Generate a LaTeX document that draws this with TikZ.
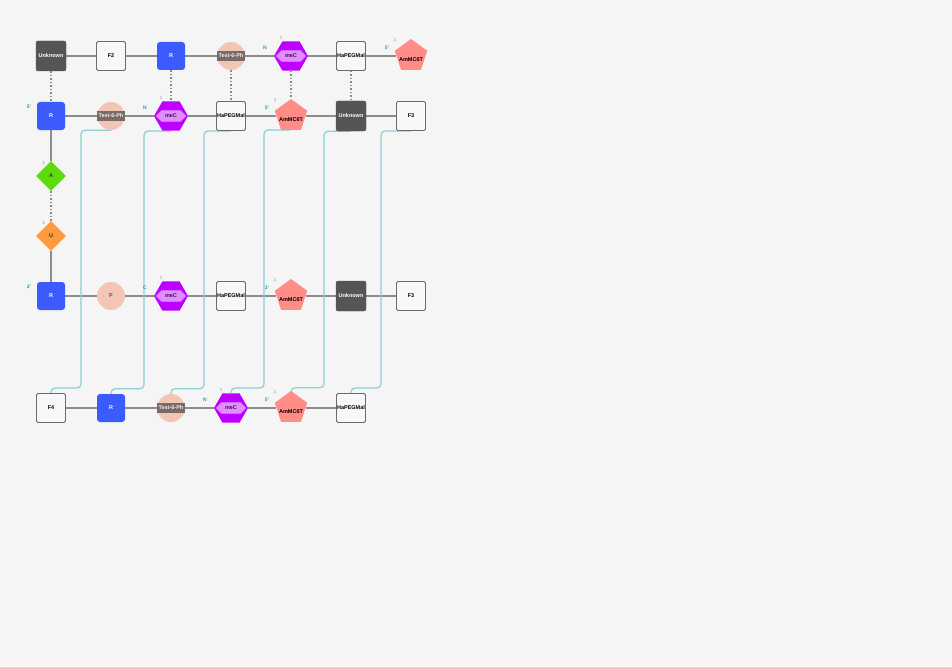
\documentclass[tikz,border=0pt]{standalone}
\usepackage{fontspec}
\setmainfont{Liberation Sans}
\usetikzlibrary{shapes,positioning}
\definecolor{pagebg}{HTML}{F5F5F5}
\definecolor{unkgray}{HTML}{555555}
\definecolor{boxline}{HTML}{6B6B6B}
\definecolor{boxfill}{HTML}{F7F8FA}
\definecolor{riboblue}{HTML}{3B5BFD}
\definecolor{linkpink}{HTML}{F2C5B5}
\definecolor{linktext}{HTML}{555555}
\definecolor{phbrown}{HTML}{7A6A66}
\definecolor{phtext}{HTML}{EEEEEE}
\definecolor{mecpurple}{HTML}{C000FF}
\definecolor{meclight}{HTML}{E28DFF}
\definecolor{mecedge}{HTML}{CF6BFF}
\definecolor{mectext}{HTML}{3A1A4A}
\definecolor{dyepink}{HTML}{FF8C87}
\definecolor{agreen}{HTML}{5EDB0C}
\definecolor{uorange}{HTML}{FF9A3C}
\definecolor{basetext}{HTML}{333333}
\definecolor{endteal}{HTML}{1E9CB0}
\definecolor{onegray}{HTML}{8A8A8A}
\definecolor{bondgray}{HTML}{8C8C8C}
\definecolor{dotgray}{HTML}{8A8A8A}
\definecolor{linkteal}{HTML}{8CCFD5}
\pgfdeclarelayer{links}
\pgfsetlayers{links,main}
\begin{document}
\begin{tikzpicture}[x=1pt, y=1pt, node distance = 60pt, auto,
    every node/.style={font=\fontsize{5.5}{6}\selectfont\bfseries},
    unknownbox/.style={rectangle, draw=unkgray, fill=unkgray, rounded corners=2pt, minimum size=30pt, inner sep=0pt, text=white},
    plainbox/.style={rectangle, draw=boxline, fill=boxfill, rounded corners=1.5pt, line width=0.9pt, minimum size=29pt, inner sep=0pt, text=black},
    ribose/.style={rectangle, fill=riboblue, rounded corners=3pt, minimum size=28pt, inner sep=0pt, text=white},
    linker/.style={circle, fill=linkpink, minimum size=28pt, inner sep=0pt, text=linktext},
    phtag/.style={rectangle, fill=phbrown, text=phtext, inner sep=1.5pt, minimum height=10pt},
    modbase/.style={regular polygon, regular polygon sides=6, fill=mecpurple, minimum size=34pt, inner sep=0pt},
    mectag/.style={signal, signal to=west and east, fill=meclight, draw=mecedge, line width=0.6pt, minimum width=30pt, minimum height=11pt, inner sep=0pt, text=mectext},
    dye/.style={regular polygon, regular polygon sides=5, fill=dyepink, minimum size=34pt, inner sep=0pt},
    dyetag/.style={inner sep=0pt, yshift=-4pt, text=black},
    basea/.style={diamond, fill=agreen, minimum size=30pt, inner sep=0pt, text=basetext},
    baseu/.style={diamond, fill=uorange, minimum size=30pt, inner sep=0pt, text=basetext},
    endtag/.style={text=endteal, inner sep=0pt, font=\fontsize{5}{5}\selectfont\bfseries},
    onetag/.style={text=onegray, inner sep=0pt, font=\fontsize{4.5}{5}\selectfont},
    hexend/.style={label={[endtag, xshift=-26pt, yshift=8pt]center:#1}, label={[onetag, xshift=-10pt, yshift=18pt]center:1}},
    pentend/.style={label={[endtag, xshift=-24pt, yshift=8pt]center:#1}, label={[onetag, xshift=-16pt, yshift=16pt]center:1}},
    riboend/.style={label={[endtag, xshift=-22pt, yshift=9pt]center:#1}},
    baseone/.style={label={[onetag, xshift=-7pt, yshift=13pt]center:1}},
    bond/.style={draw=bondgray, line width=1.6pt},
    stack/.style={draw=dotgray, line width=1.5pt, dash pattern=on 1.5pt off 2pt},
    pairlink/.style={draw=linkteal, line width=1.2pt, rounded corners=4pt}]
    \useasboundingbox (0,0) rectangle (952,-666);
    \begin{pgfonlayer}{links}
        \fill[pagebg] (0,0) rectangle (952,-666);
    \end{pgfonlayer}
    % first strand
    \node [unknownbox] (a1) at (51,-56) {Unknown};
    \node [plainbox, right of=a1] (a2) {F2};
    \node [ribose, right of=a2] (a3) {R};
    \node [linker, right of=a3, label={[phtag]center:Test-6-Ph}] (a4) {};
    \node [modbase, right of=a4, hexend=N, label={[mectag]center:meC}] (a5) {};
    \node [plainbox, right of=a5] (a6) {HaPEGMal};
    \node [dye, right of=a6, pentend={5'}, label={[dyetag]center:AmMC6T}] (a7) {};
    % second strand
    \node [ribose, below of=a1, riboend={5'}] (b1) {R};
    \node [linker, right of=b1, label={[phtag]center:Test-6-Ph}] (b2) {};
    \node [modbase, right of=b2, hexend=N, label={[mectag]center:meC}] (b3) {};
    \node [plainbox, right of=b3] (b4) {HaPEGMal};
    \node [dye, right of=b4, pentend={5'}, label={[dyetag]center:AmMC6T}] (b5) {};
    \node [unknownbox, right of=b5] (b6) {Unknown};
    \node [plainbox, right of=b6] (b7) {F3};
    % bases
    \node [basea, below of=b1, baseone] (nA) {A};
    \node [baseu, below of=nA, baseone] (nU) {U};
    % third strand
    \node [ribose, below of=nU, riboend={3'}] (c1) {R};
    \node [linker, right of=c1] (c2) {P};
    \node [modbase, right of=c2, hexend=C, label={[mectag]center:meC}] (c3) {};
    \node [plainbox, right of=c3] (c4) {HaPEGMal};
    \node [dye, right of=c4, pentend={3'}, label={[dyetag]center:AmMC6T}] (c5) {};
    \node [unknownbox, right of=c5] (c6) {Unknown};
    \node [plainbox, right of=c6] (c7) {F3};
    % fourth strand
    \node [plainbox, below of=c1, node distance=112pt] (d1) {F4};
    \node [ribose, right of=d1] (d2) {R};
    \node [linker, right of=d2, label={[phtag]center:Test-6-Ph}] (d3) {};
    \node [modbase, right of=d3, hexend=N, label={[mectag]center:meC}] (d4) {};
    \node [dye, right of=d4, pentend={5'}, label={[dyetag]center:AmMC6T}] (d5) {};
    \node [plainbox, right of=d5] (d6) {HaPEGMal};
    \begin{pgfonlayer}{links}
        \path [bond] (a1) -- (a2) -- (a3) -- (a4) -- (a5) -- (a6) -- (a7);
        \path [bond] (b1) -- (b2) -- (b3) -- (b4) -- (b5) -- (b6) -- (b7);
        \path [bond] (c1) -- (c2) -- (c3) -- (c4) -- (c5) -- (c6) -- (c7);
        \path [bond] (d1) -- (d2) -- (d3) -- (d4) -- (d5) -- (d6);
        \path [stack] (a1) -- (b1);
        \path [stack] (a3) -- (b3);
        \path [stack] (a4) -- (b4);
        \path [stack] (a5) -- (b5);
        \path [stack] (a6) -- (b6);
        \path [bond] (b1) -- (nA);
        \path [stack] (nA) -- (nU);
        \path [bond] (nU) -- (c1);
        % cross links
        \path [pairlink] (b2.south) -| ([shift={(30pt,5pt)}]d1.north) -| (d1.north);
        \path [pairlink] (b3.south) -| ([shift={(33pt,5pt)}]d2.north) -| (d2.north);
        \path [pairlink] (b4.south) -| ([shift={(33pt,5pt)}]d3.north) -| (d3.north);
        \path [pairlink] (b5.south) -| ([shift={(33pt,5pt)}]d4.north) -| (d4.north);
        \path [pairlink] (b6.south) -| ([shift={(33pt,3pt)}]d5.north) -| (d5.north);
        \path [pairlink] (b7.south) -| ([shift={(30pt,5pt)}]d6.north) -| (d6.north);
    \end{pgfonlayer}
\end{tikzpicture}
\end{document}
